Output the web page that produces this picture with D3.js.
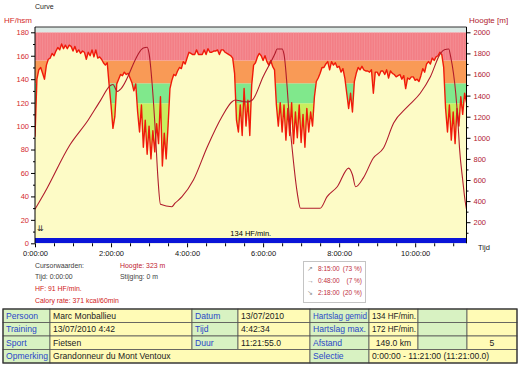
<!DOCTYPE html>
<html><head><meta charset="utf-8">
<script src="https://cdn.jsdelivr.net/npm/d3@7"></script>
<style>
body{margin:0;background:#fff;}
svg{display:block;font-family:"Liberation Sans",Arial,sans-serif;}
</style></head>
<body><svg id="c" width="520" height="367"></svg>
<script>
// ---- data ----
const hrStepMin = 3; // HR sampled every 3 minutes
const hrValues = [91,140,148,150,145,140,152,157,158,162,160,164,167,165,170,166,169,166,169,168,
164,168,163,165,162,164,163,157,163,160,165,159,165,158,159,157,154,152,154,135,
118,98,108,136,140,144,143,146,144,145,141,137,130,136,112,95,118,82,105,76,
100,72,96,78,102,85,125,66,94,72,100,132,139,144,143,147,150,149,155,153,
158,163,162,161,161,165,161,161,161,165,161,166,163,163,164,164,165,161,165,165,
163,162,161,160,158,145,105,95,118,92,132,100,122,92,135,152,154,159,162,160,
156,160,155,152,156,151,148,118,100,120,95,118,88,115,92,120,85,112,90,118,
86,110,82,115,95,112,100,125,138,141,145,150,150,153,155,148,155,152,154,150,
151,146,149,141,128,115,128,112,138,145,150,148,151,148,147,147,146,148,128,146,
146,143,147,147,144,148,141,147,145,144,142,143,144,140,143,132,141,140,142,142,
139,140,138,143,149,146,153,155,153,158,156,159,160,163,161,150,115,95,118,88,
112,85,115,100,125,110,128,120];
const altTimes = [0,16,55,84,103,119,123,130,134,171,177,180,185,190,194,198,216,221,232,250,
272,295,311,316,324,335,343,360,379,382,390,393,403,414,419,450,461,477,495,501,
506,518,534,550,566,588,608,624,640,646,653,656,664,667,670,675,679,681];
const altValues = [323,489,932,1169,1350,1495,1505,1440,1455,1851,1858,1800,1500,1050,620,370,347,380,442,600,
916,1200,1342,1358,1350,1340,1358,1579,1801,1842,1842,1790,1074,474,332,332,442,536,713,650,
536,618,808,903,1140,1295,1422,1579,1801,1835,1842,1769,1422,1200,900,600,394,323];
const zoneBounds = [0,119.5,136.5,156,180,185];
const zoneColors = ["#c8ef5e","#80e88c","#f99a56","#f37e85","#dde8e4"];
const hrTicks = [0,20,40,60,80,100,120,140,160,180];
const altTicks = [200,400,600,800,1000,1200,1400,1600,1800,2000];
const timeTicks = [0,120,240,360,480,600];
const timeTickLabels = ["0:00:00","2:00:00","4:00:00","6:00:00","8:00:00","10:00:00"];
const avgLabel = "134 HF/min.";
const cursorInfo = [["Cursorwaarden:","#404040"],["Tijd: 0:00:00","#404040"],["HF: 91 HF/min.","#d02020"],["Calory rate: 371 kcal/60min","#d02020"]];
const cursorInfo2 = [["Hoogte: 323 m","#c02030"],["Stijging: 0 m","#404040"]];
const slopeRows = [["\u2197","8:15:00","(73 %)"],["\u2192","0:48:00","(7 %)"],["\u2198","2:18:00","(20 %)"]];
const tableRows = [
 ["Persoon","Marc Monballieu","Datum","13/07/2010","Hartslag gemid","134 HF/min.","",""],
 ["Training","13/07/2010 4:42","Tijd","4:42:34","Hartslag max.","172 HF/min.","",""],
 ["Sport","Fietsen","Duur","11:21:55.0","Afstand","149.0 km","","5"],
 ["Opmerking","Grandonneur du Mont Ventoux",null,null,"Selectie","0:00:00 - 11:21:00 (11:21:00.0)",null,null]];

// ---- chart ----
const svg = d3.select("#c");
const L=35, R=466.5, T=27, B=243.3;
const x = d3.scaleLinear().domain([0,681]).range([L,R]);
const yHR = d3.scaleLinear().domain([0,180]).range([B,32.3]);
const yAlt = d3.scaleLinear().domain([0,2000]).range([B,32.3]);
const hr = hrValues.map((v,i)=>({t:Math.min(i*hrStepMin,681),v}));
const alt = altTimes.map((t,i)=>({t,v:altValues[i]}));

const defs = svg.append("defs");
defs.append("clipPath").attr("id","plot").append("rect").attr("x",L).attr("y",T).attr("width",R-L).attr("height",B-T);

const g = svg.append("g").attr("clip-path","url(#plot)");
zoneColors.forEach((c,i)=>{
  const y0 = yHR(zoneBounds[i]), y1 = i===zoneColors.length-1 ? T : yHR(zoneBounds[i+1]);
  g.append("rect").attr("x",L).attr("y",y1).attr("width",R-L).attr("height",y0-y1).attr("fill",c);
});
g.append("g").selectAll("line").data(d3.range(0,681,4)).join("line")
 .attr("x1",d=>x(d)).attr("x2",d=>x(d)).attr("y1",yHR(180)).attr("y2",yHR(156))
 .attr("stroke","#f6a0a4").attr("stroke-width",0.8).attr("opacity",0.6);
g.append("path").datum(hr).attr("fill","#fdfbc6")
 .attr("d",d3.area().x(d=>x(d.t)).y0(B).y1(d=>yHR(d.v)));
g.append("path").datum(hr).attr("fill","none").attr("stroke","#f01a0a").attr("stroke-width",1.4)
 .attr("stroke-linejoin","round")
 .attr("d",d3.line().x(d=>x(d.t)).y(d=>yHR(d.v)));
g.append("path").datum(alt).attr("fill","none").attr("stroke","#b01c2c").attr("stroke-width",1.1)
 .attr("d",d3.line().x(d=>x(d.t)).y(d=>yAlt(d.v)).curve(d3.curveMonotoneX));
g.append("rect").attr("x",L).attr("y",238).attr("width",R-L).attr("height",B-238).attr("fill","#0a14d8");
svg.append("text").attr("x",(L+R)/2).attr("y",236).attr("text-anchor","middle").attr("font-size",7.5).attr("fill","#000").text(avgLabel);
svg.append("text").attr("x",36.5).attr("y",231).attr("font-size",8).attr("fill","#222").text("\u21ca");

svg.append("line").attr("x1",L).attr("x2",R).attr("y1",T).attr("y2",T).attr("stroke","#333");

function styleAxis(sel,color){
  sel.select(".domain").remove();
  sel.selectAll("line").attr("stroke","#000");
  sel.selectAll("text").attr("fill",color).attr("font-size",7.5).attr("font-family","Liberation Sans, Arial, sans-serif");
}
const la = svg.append("g").attr("transform",`translate(${L},0)`)
 .call(d3.axisLeft(yHR).tickValues(hrTicks).tickSize(4).tickPadding(2).tickFormat(d3.format("d")));
styleAxis(la,"#d42a2a");
const lm = svg.append("g").attr("transform",`translate(${L},0)`)
 .call(d3.axisLeft(yHR).tickValues(d3.range(10,180,20)).tickSize(2).tickFormat(""));
styleAxis(lm,"#000");
const ra = svg.append("g").attr("transform",`translate(${R},0)`)
 .call(d3.axisRight(yAlt).tickValues(altTicks).tickSize(4).tickPadding(3).tickFormat(d3.format("d")));
styleAxis(ra,"#b0202e");
const rm = svg.append("g").attr("transform",`translate(${R},0)`)
 .call(d3.axisRight(yAlt).tickValues(d3.range(100,2000,200)).tickSize(2).tickFormat(""));
styleAxis(rm,"#000");
const xa = svg.append("g").attr("transform",`translate(0,${B})`)
 .call(d3.axisBottom(x).tickValues(timeTicks).tickSize(4).tickPadding(3).tickFormat((d,i)=>timeTickLabels[i]));
styleAxis(xa,"#111");
const xm = svg.append("g").attr("transform",`translate(0,${B})`)
 .call(d3.axisBottom(x).tickValues(d3.range(30,681,30).filter(d=>d%120!==0)).tickSize(3).tickFormat(""));
styleAxis(xm,"#000");
svg.append("line").attr("x1",L).attr("x2",L).attr("y1",T).attr("y2",B).attr("stroke","#000");
svg.append("line").attr("x1",R).attr("x2",R).attr("y1",T).attr("y2",B).attr("stroke","#000");

svg.append("text").attr("x",35).attr("y",9).attr("font-size",7).attr("fill","#222").text("Curve");
svg.append("text").attr("x",4).attr("y",23).attr("font-size",8).attr("fill","#d42a2a").text("HF/hsm");
svg.append("text").attr("x",469).attr("y",23).attr("font-size",8).attr("fill","#b0202e").text("Hoogte [m]");
svg.append("text").attr("x",478).attr("y",250).attr("font-size",7.5).attr("fill","#222").text("Tijd");

cursorInfo.forEach((d,i)=>svg.append("text").attr("x",35).attr("y",267.5+i*11.7).attr("font-size",6.9).attr("fill",d[1]).text(d[0]));
cursorInfo2.forEach((d,i)=>svg.append("text").attr("x",120).attr("y",267.5+i*11.7).attr("font-size",6.9).attr("fill",d[1]).text(d[0]));

svg.append("rect").attr("x",303.5).attr("y",261.5).attr("width",62).attr("height",41).attr("fill","#fff").attr("stroke","#c4c4c4");
slopeRows.forEach((r,i)=>{
  const yy=270.5+i*12;
  svg.append("text").attr("x",307).attr("y",yy).attr("font-size",7).attr("fill","#909090").text(r[0]);
  svg.append("text").attr("x",318).attr("y",yy).attr("font-size",6.5).attr("fill","#c03040").text(r[1]);
  svg.append("text").attr("x",362).attr("y",yy).attr("text-anchor","end").attr("font-size",6.5).attr("fill","#c03040").text(r[2]);
});

const colX=[3,50,192,238,310,369,418,467,517];
const rowY=[309,322.5,336,349.5,363];
const green="#d8f2c2", yellow="#fffbb6";
const tg = svg.append("g");
tableRows.forEach((row,ri)=>{
  let ci=0;
  while(ci<8){
    let span=1; while(ci+span<8 && row[ci+span]===null) span++;
    const x0=colX[ci], x1=colX[ci+span], y0=rowY[ri], y1=rowY[ri+1];
    const isLabel = (ci===0||ci===2||ci===4);
    const fill = (isLabel||ci===6)?green:yellow;
    tg.append("rect").attr("x",x0).attr("y",y0).attr("width",x1-x0).attr("height",y1-y0).attr("fill",fill).attr("stroke","#555").attr("stroke-width",0.8);
    const txt=row[ci];
    if(txt){
      const centered = (ri===2 && (ci===5||ci===7));
      const t = tg.append("text")
        .attr("x",centered?(x0+x1)/2:x0+3).attr("y",y0+9.8)
        .attr("text-anchor",centered?"middle":"start")
        .attr("font-size",8.6).attr("fill",isLabel?"#2a48c8":"#222").text(txt);
      if(t.node().getComputedTextLength() > x1-x0-5) t.attr("textLength",x1-x0-5).attr("lengthAdjust","spacingAndGlyphs");
    }
    ci+=span;
  }
});
tg.append("rect").attr("x",3).attr("y",309).attr("width",514).attr("height",54).attr("fill","none").attr("stroke","#333").attr("stroke-width",1.2);
</script></body></html>
